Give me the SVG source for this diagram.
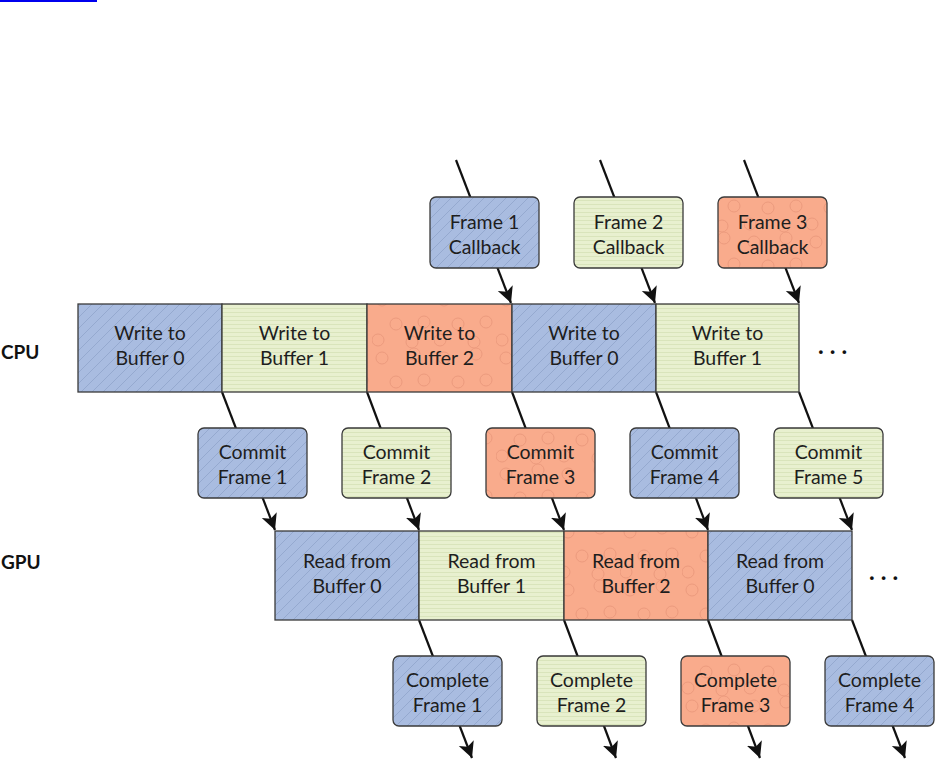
<svg xmlns="http://www.w3.org/2000/svg" width="936" height="761" viewBox="0 0 936 761">
<style>
.t{font-family:"Lato","Open Sans",sans-serif;font-size:19.5px;fill:#1e1e1e;text-anchor:middle}
.lbl{font-family:"Lato","Open Sans",sans-serif;font-size:19px;font-weight:bold;fill:#111}
.dots{font-family:"Lato",sans-serif;font-size:24px;font-weight:bold;fill:#111;letter-spacing:6px}
.box{stroke:#3a3a3a;stroke-width:1.3}
.cell{stroke:#3a3a3a;stroke-width:1.3}
.b{fill:url(#pb)}
.g{fill:url(#pg)}
.s{fill:url(#ps)}
.conn line{stroke:#111;stroke-width:2.2}
</style>
<defs>
<pattern id="pb" patternUnits="userSpaceOnUse" width="11" height="11">
<rect width="11" height="11" fill="#a9bce0"/>
<path d="M-1,12 L12,-1" stroke="#90a4ca" stroke-width="0.8"/>
</pattern>
<pattern id="pg" patternUnits="userSpaceOnUse" width="4" height="4">
<rect width="4" height="4" fill="#e8f0cf"/>
<line x1="0" y1="0.5" x2="4" y2="0.5" stroke="#d6e1b6" stroke-width="0.8"/>
</pattern>
<pattern id="ps" patternUnits="userSpaceOnUse" width="62" height="58">
<rect width="62" height="58" fill="#f9ab8c"/>
<g fill="none" stroke="#ec9a7d" stroke-width="1">
<circle cx="10" cy="10" r="6"/>
<circle cx="42" cy="6" r="6"/>
<circle cx="52" cy="32" r="6"/>
<circle cx="24" cy="34" r="6"/>
<circle cx="6" cy="50" r="6"/>
<circle cx="40" cy="52" r="6"/>
</g>
</pattern>
<marker id="ah" markerUnits="userSpaceOnUse" markerWidth="20" markerHeight="20" refX="16" refY="8" orient="auto">
<path d="M0,0 L16,8 L0,16 L4,8 z" fill="#111"/>
</marker>
</defs>
<rect width="936" height="761" fill="#fff"/>
<line x1="0" y1="1" x2="97" y2="1" stroke="#0000ee" stroke-width="2"/>

<g id="connectors" class="conn">
<line x1="456" y1="160" x2="511" y2="303" marker-end="url(#ah)"/>
<line x1="600" y1="160" x2="655" y2="303" marker-end="url(#ah)"/>
<line x1="744" y1="160" x2="799" y2="303" marker-end="url(#ah)"/>
<line x1="222" y1="392" x2="275" y2="530" marker-end="url(#ah)"/>
<line x1="367" y1="392" x2="419" y2="530" marker-end="url(#ah)"/>
<line x1="512" y1="392" x2="564" y2="530" marker-end="url(#ah)"/>
<line x1="656" y1="392" x2="708" y2="530" marker-end="url(#ah)"/>
<line x1="799" y1="392" x2="852" y2="530" marker-end="url(#ah)"/>
<line x1="419" y1="620" x2="472" y2="758" marker-end="url(#ah)"/>
<line x1="564" y1="620" x2="616" y2="758" marker-end="url(#ah)"/>
<line x1="708" y1="620" x2="760" y2="758" marker-end="url(#ah)"/>
<line x1="852" y1="620" x2="905" y2="758" marker-end="url(#ah)"/>
</g>

<text class="lbl" x="1" y="359">CPU</text>
<text class="lbl" x="1" y="569">GPU</text>

<g id="cb1"><rect class="box b" x="430" y="197" width="109" height="71" rx="6"/><text class="t" x="484.5" y="229">Frame 1</text><text class="t" x="484.5" y="254">Callback</text></g>
<g id="cb2"><rect class="box g" x="574" y="197" width="109" height="71" rx="6"/><text class="t" x="628.5" y="229">Frame 2</text><text class="t" x="628.5" y="254">Callback</text></g>
<g id="cb3"><rect class="box s" x="718" y="197" width="109" height="71" rx="6"/><text class="t" x="772.5" y="229">Frame 3</text><text class="t" x="772.5" y="254">Callback</text></g>

<g id="cpu1"><rect class="cell b" x="78" y="304" width="144" height="88"/><text class="t" x="150" y="340">Write to</text><text class="t" x="150" y="365">Buffer 0</text></g>
<g id="cpu2"><rect class="cell g" x="222" y="304" width="145" height="88"/><text class="t" x="294.5" y="340">Write to</text><text class="t" x="294.5" y="365">Buffer 1</text></g>
<g id="cpu3"><rect class="cell s" x="367" y="304" width="145" height="88"/><text class="t" x="439.5" y="340">Write to</text><text class="t" x="439.5" y="365">Buffer 2</text></g>
<g id="cpu4"><rect class="cell b" x="512" y="304" width="144" height="88"/><text class="t" x="584" y="340">Write to</text><text class="t" x="584" y="365">Buffer 0</text></g>
<g id="cpu5"><rect class="cell g" x="656" y="304" width="143" height="88"/><text class="t" x="727.5" y="340">Write to</text><text class="t" x="727.5" y="365">Buffer 1</text></g>
<text class="dots" x="818" y="354">...</text>

<g id="cm1"><rect class="box b" x="198" y="428" width="109" height="70" rx="6"/><text class="t" x="252.5" y="459">Commit</text><text class="t" x="252.5" y="484">Frame 1</text></g>
<g id="cm2"><rect class="box g" x="342" y="428" width="109" height="70" rx="6"/><text class="t" x="396.5" y="459">Commit</text><text class="t" x="396.5" y="484">Frame 2</text></g>
<g id="cm3"><rect class="box s" x="486" y="428" width="109" height="70" rx="6"/><text class="t" x="540.5" y="459">Commit</text><text class="t" x="540.5" y="484">Frame 3</text></g>
<g id="cm4"><rect class="box b" x="630" y="428" width="109" height="70" rx="6"/><text class="t" x="684.5" y="459">Commit</text><text class="t" x="684.5" y="484">Frame 4</text></g>
<g id="cm5"><rect class="box g" x="774" y="428" width="109" height="70" rx="6"/><text class="t" x="828.5" y="459">Commit</text><text class="t" x="828.5" y="484">Frame 5</text></g>

<g id="gpu1"><rect class="cell b" x="275" y="531" width="144" height="89"/><text class="t" x="347" y="568">Read from</text><text class="t" x="347" y="593">Buffer 0</text></g>
<g id="gpu2"><rect class="cell g" x="419" y="531" width="145" height="89"/><text class="t" x="491.5" y="568">Read from</text><text class="t" x="491.5" y="593">Buffer 1</text></g>
<g id="gpu3"><rect class="cell s" x="564" y="531" width="144" height="89"/><text class="t" x="636" y="568">Read from</text><text class="t" x="636" y="593">Buffer 2</text></g>
<g id="gpu4"><rect class="cell b" x="708" y="531" width="144" height="89"/><text class="t" x="780" y="568">Read from</text><text class="t" x="780" y="593">Buffer 0</text></g>
<text class="dots" x="869" y="580">...</text>

<g id="cp1"><rect class="box b" x="393" y="656" width="109" height="70" rx="6"/><text class="t" x="447.5" y="687">Complete</text><text class="t" x="447.5" y="712">Frame 1</text></g>
<g id="cp2"><rect class="box g" x="537" y="656" width="109" height="70" rx="6"/><text class="t" x="591.5" y="687">Complete</text><text class="t" x="591.5" y="712">Frame 2</text></g>
<g id="cp3"><rect class="box s" x="681" y="656" width="109" height="70" rx="6"/><text class="t" x="735.5" y="687">Complete</text><text class="t" x="735.5" y="712">Frame 3</text></g>
<g id="cp4"><rect class="box b" x="825" y="656" width="109" height="70" rx="6"/><text class="t" x="879.5" y="687">Complete</text><text class="t" x="879.5" y="712">Frame 4</text></g>
</svg>
